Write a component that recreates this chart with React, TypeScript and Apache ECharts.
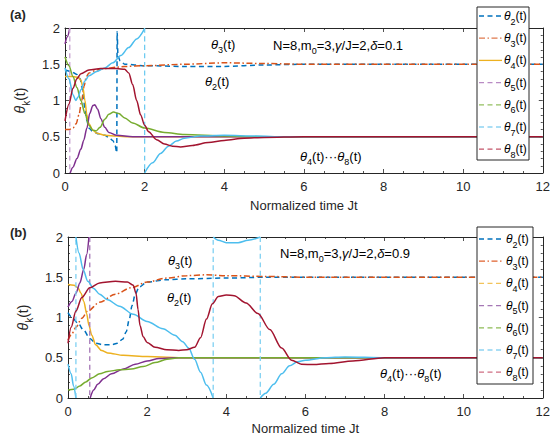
import React, { useEffect, useRef } from 'react';
import * as echarts from 'echarts';

const FONT = '"Liberation Sans", Arial, Helvetica, sans-serif';
const INK = '#262626';
const C2 = '#0072BD';
const C3 = '#D95319';
const C4 = '#EDB120';
const C5 = '#7E2F8E';
const C6 = '#77AC30';
const C7 = '#4DBEEE';
const C8 = '#A2142F';

// x-axis ticks and y-axis ticks
const xTicks = [0, 2, 4, 6, 8, 10, 12];
const yTicks = [0, 0.5, 1, 1.5, 2];
const legendIds = ['2', '3', '4', '5', '6', '7', '8'];

// ---------- panel (a): delta = 0.1 ----------
const a2 = [[0, 1.42], [0.15, 1.4], [0.3, 1.36], [0.38, 1.3], [0.44, 1.15], [0.5, 0.9], [0.55, 0.72], [0.6, 0.62], [0.7, 0.57], [0.85, 0.54], [1.0, 0.52], [1.1, 0.49], [1.2, 0.45], [1.26, 0.38], [1.3, 0.28], [1.31, 1.95], [1.33, 1.62], [1.38, 1.55], [1.5, 1.5], [2, 1.48], [3, 1.47], [4, 1.47], [5, 1.49], [6, 1.5], [12, 1.5]];
const a3 = [[0, 0.6], [0.1, 0.6], [0.2, 0.62], [0.28, 0.68], [0.35, 0.8], [0.42, 1.0], [0.48, 1.2], [0.53, 1.32], [0.6, 1.38], [0.8, 1.42], [1.0, 1.44], [1.3, 1.46], [1.5, 1.47], [2, 1.48], [3, 1.5], [4, 1.52], [5, 1.51], [6, 1.5], [12, 1.5]];
const a4 = [[0, 1.33], [0.2, 1.33], [0.33, 1.32], [0.4, 1.28], [0.45, 1.18], [0.5, 1.0], [0.55, 0.8], [0.6, 0.68], [0.7, 0.59], [0.8, 0.55], [1.0, 0.52], [1.3, 0.51], [1.6, 0.5], [12, 0.5]];
const a5Seg1 = [[0, 1.78], [0.06, 1.88], [0.12, 2.0]];
const a5Jump = [[0.12, 2], [0.12, 0]];
const a5Seg2 = [[0.13, 0], [0.2, 0.08], [0.3, 0.2], [0.4, 0.33], [0.47, 0.45], [0.55, 0.62], [0.62, 0.82], [0.7, 0.93], [0.75, 0.94], [0.82, 0.88], [0.9, 0.75], [1.0, 0.63], [1.1, 0.56], [1.3, 0.52], [1.7, 0.5], [12, 0.5]];
const a6 = [[0, 1.6], [0.1, 1.48], [0.2, 1.33], [0.3, 1.18], [0.4, 1.0], [0.5, 0.82], [0.6, 0.66], [0.7, 0.59], [0.78, 0.58], [0.88, 0.63], [1.0, 0.74], [1.1, 0.81], [1.22, 0.84], [1.35, 0.82], [1.5, 0.76], [1.7, 0.69], [2.0, 0.62], [2.5, 0.56], [3, 0.53], [4, 0.51], [5, 0.5], [12, 0.5]];
const a7Seg1 = [[0, 1.45], [0.1, 1.3], [0.2, 1.08], [0.27, 1.0], [0.33, 1.05], [0.4, 1.15], [0.5, 1.27], [0.6, 1.34], [0.8, 1.4], [1.0, 1.45], [1.2, 1.52], [1.4, 1.62], [1.6, 1.73], [1.8, 1.85], [2.0, 1.99]];
const a7Jump = [[2, 2], [2, 0]];
const a7Seg2 = [[2.0, 0], [2.2, 0.14], [2.4, 0.27], [2.6, 0.37], [2.8, 0.44], [3.0, 0.48], [3.4, 0.51], [4, 0.52], [4.8, 0.51], [5.5, 0.5], [12, 0.5]];
const a8 = [[0, 0.72], [0.1, 0.95], [0.2, 1.17], [0.3, 1.3], [0.4, 1.37], [0.6, 1.42], [0.9, 1.44], [1.3, 1.44], [1.5, 1.43], [1.6, 1.38], [1.7, 1.22], [1.8, 1.0], [1.9, 0.8], [2.0, 0.66], [2.1, 0.57], [2.3, 0.46], [2.5, 0.4], [2.7, 0.37], [2.9, 0.36], [3.2, 0.38], [3.6, 0.42], [4, 0.45], [4.5, 0.48], [5, 0.49], [6, 0.5], [12, 0.5]];

// ---------- panel (b): delta = 0.9 ----------
const b2 = [[0, 1.06], [0.1, 1.0], [0.25, 0.93], [0.4, 0.84], [0.55, 0.74], [0.7, 0.68], [0.9, 0.66], [1.1, 0.66], [1.25, 0.68], [1.38, 0.73], [1.47, 0.82], [1.55, 0.98], [1.62, 1.15], [1.7, 1.29], [1.8, 1.38], [2.0, 1.44], [2.5, 1.47], [3, 1.48], [4, 1.49], [5, 1.5], [12, 1.5]];
const b3 = [[0, 0.72], [0.1, 0.8], [0.2, 0.88], [0.35, 0.99], [0.5, 1.08], [0.8, 1.19], [1.2, 1.29], [1.6, 1.37], [2.0, 1.44], [2.5, 1.49], [3, 1.52], [3.5, 1.53], [4, 1.52], [5, 1.51], [6, 1.5], [12, 1.5]];
const b4 = [[0, 1.41], [0.15, 1.4], [0.25, 1.37], [0.33, 1.3], [0.4, 1.2], [0.47, 1.05], [0.53, 0.9], [0.6, 0.78], [0.7, 0.66], [0.85, 0.59], [1.0, 0.56], [1.4, 0.53], [2, 0.515], [3, 0.5], [12, 0.5]];
const b5Seg1 = [[0, 1.13], [0.1, 1.2], [0.2, 1.3], [0.3, 1.43], [0.4, 1.6], [0.47, 1.78], [0.53, 2.0]];
const b5Jump = [[0.55, 2], [0.55, 0]];
const b5Seg2 = [[0.56, 0], [0.65, 0.1], [0.75, 0.17], [0.9, 0.24], [1.1, 0.3], [1.4, 0.36], [1.7, 0.42], [2.0, 0.46], [2.3, 0.49], [2.7, 0.5], [12, 0.5]];
const b6 = [[0, 0.1], [0.15, 0.11], [0.3, 0.15], [0.45, 0.2], [0.6, 0.25], [0.8, 0.3], [1.0, 0.33], [1.3, 0.35], [1.6, 0.36], [1.9, 0.39], [2.2, 0.44], [2.5, 0.48], [2.8, 0.5], [12, 0.5]];
const b7Seg1 = [[0, 0.42], [0.08, 0.3], [0.14, 0.15], [0.2, 0]];
const b7Jump1 = [[0.2, 0], [0.2, 2]];
const b7Seg2 = [[0.2, 2], [0.28, 1.8], [0.38, 1.6], [0.5, 1.45], [0.65, 1.36], [0.8, 1.29], [1.0, 1.22], [1.3, 1.14], [1.65, 1.04], [2.0, 0.95], [2.4, 0.86], [2.7, 0.78], [2.9, 0.7], [3.05, 0.62], [3.2, 0.48], [3.35, 0.32], [3.5, 0.16], [3.67, 0]];
const b7Jump2 = [[3.67, 0], [3.67, 2]];
const b7Seg3 = [[3.67, 2], [3.8, 1.96], [4.0, 1.93], [4.3, 1.93], [4.55, 1.96], [4.86, 2]];
const b7Jump3 = [[4.86, 2], [4.86, 0]];
const b7Seg4 = [[4.86, 0], [5.0, 0.06], [5.2, 0.17], [5.4, 0.3], [5.6, 0.4], [5.8, 0.45], [6.0, 0.47], [6.5, 0.5], [7, 0.51], [8, 0.5], [12, 0.5]];
const b8 = [[0, 0.68], [0.08, 0.88], [0.2, 1.08], [0.35, 1.25], [0.55, 1.37], [0.8, 1.43], [1.2, 1.45], [1.5, 1.44], [1.65, 1.4], [1.72, 1.3], [1.77, 1.1], [1.82, 0.9], [1.9, 0.76], [2.0, 0.69], [2.2, 0.63], [2.5, 0.6], [2.8, 0.59], [3.0, 0.6], [3.2, 0.63], [3.35, 0.75], [3.5, 0.98], [3.65, 1.17], [3.8, 1.26], [4.0, 1.28], [4.2, 1.27], [4.5, 1.18], [4.8, 1.05], [5.1, 0.85], [5.4, 0.62], [5.65, 0.47], [5.9, 0.42], [6.2, 0.415], [6.6, 0.43], [7.2, 0.46], [8, 0.5], [12, 0.5]];

const DASH = [5, 3.5];
const DASHDOT = [6, 2.5, 1.5, 2.5];

const richBase = (size: number) => ({
  th: { fontFamily: FONT, fontSize: size, fontStyle: 'italic' as const, color: INK, lineHeight: size + 4 },
  n: { fontFamily: FONT, fontSize: size, color: INK, lineHeight: size + 4 },
  s: { fontFamily: FONT, fontSize: Math.round(size * 0.72), color: INK, verticalAlign: 'bottom' as const, lineHeight: size + 8 },
});

export default function App() {
  const ref = useRef<HTMLDivElement>(null);
  useEffect(() => {
    const chart = echarts.init(ref.current!, null, { renderer: 'svg' });

    const xAx = (gi: number, pos: 'bottom' | 'top', nameGap: number) => ({
      type: 'value', gridIndex: gi, position: pos, min: xTicks[0], max: xTicks[xTicks.length - 1], interval: xTicks[1] - xTicks[0],
      name: pos === 'bottom' ? 'Normalized time Jt' : '', nameLocation: 'middle', nameGap,
      nameTextStyle: { fontFamily: FONT, fontSize: 13, color: INK },
      axisLine: { show: true, onZero: false, lineStyle: { color: INK, width: 1 } },
      axisTick: { show: true, inside: true, length: 4, lineStyle: { color: INK, width: 0.8 } },
      minorTick: { show: true, splitNumber: 4, length: 2, lineStyle: { color: INK, width: 0.8 } },
      axisLabel: { show: pos === 'bottom', fontFamily: FONT, fontSize: 13, color: INK, margin: 7 },
      splitLine: { show: false },
    });
    const yAx = (gi: number, pos: 'left' | 'right', nameGap: number) => ({
      type: 'value', gridIndex: gi, position: pos, min: yTicks[0], max: yTicks[yTicks.length - 1], interval: yTicks[1] - yTicks[0],
      name: pos === 'left' ? '{th|θ}{s|k}{n|(t)}' : '', nameLocation: 'middle', nameGap, nameRotate: 90,
      nameTextStyle: { rich: richBase(14) },
      axisLine: { show: true, onZero: false, lineStyle: { color: INK, width: 1 } },
      axisTick: { show: true, inside: true, length: 4, lineStyle: { color: INK, width: 0.8 } },
      minorTick: { show: true, splitNumber: 5, length: 2, lineStyle: { color: INK, width: 0.8 } },
      axisLabel: { show: pos === 'left', fontFamily: FONT, fontSize: 13, color: INK, margin: 5 },
      splitLine: { show: false },
    });

    const ln = (name: string, data: number[][], color: string, gi: number, type: any = 'solid', width = 1.5) => ({
      type: 'line', name, data, xAxisIndex: gi * 2, yAxisIndex: gi * 2, symbol: 'none', showSymbol: false,
      smooth: 0.3, smoothMonotone: 'x', silent: true, clip: true,
      lineStyle: { color, width, type }, itemStyle: { color },
    });

    const legendColorsA = [C2, '#E07A4E', C4, '#B98BC4', '#94C060', '#8FD3F2', '#C45469'];
    const legendTypesA: any[] = [DASH, DASHDOT, null, DASH, DASH, DASH, DASH];
    const legendColorsB = [C2, '#E0612E', '#F2C35A', '#A577B5', '#8DBB55', '#8FD3F2', '#CF6E83'];
    const legendTypesB: any[] = [DASH, DASHDOT, DASH, DASH, DASH, DASH, DASH];

    const series: any[] = [
      ln('a2', a2, C2, 0, DASH),
      ln('a3', a3, C3, 0, DASHDOT),
      ln('a4', a4, C4, 0),
      ln('a5s1', a5Seg1, C5, 0),
      ln('a5j', a5Jump, '#C6A0D0', 0, DASH, 1.3),
      ln('a5s2', a5Seg2, C5, 0),
      ln('a6', a6, C6, 0),
      ln('a7s1', a7Seg1, C7, 0),
      ln('a7j', a7Jump, '#6ECBF1', 0, DASH, 1.3),
      ln('a7s2', a7Seg2, C7, 0),
      ln('a8', a8, C8, 0),

      ln('b2', b2, C2, 1, DASH),
      ln('b3', b3, C3, 1, DASHDOT),
      ln('b4', b4, C4, 1),
      ln('b5s1', b5Seg1, C5, 1),
      ln('b5j', b5Jump, '#A577B5', 1, DASH, 1.3),
      ln('b5s2', b5Seg2, C5, 1),
      ln('b6', b6, C6, 1),
      ln('b7s1', b7Seg1, C7, 1),
      ln('b7j1', b7Jump1, '#7FD0F2', 1, DASH, 1.3),
      ln('b7s2', b7Seg2, C7, 1),
      ln('b7j2', b7Jump2, '#7FD0F2', 1, DASH, 1.3),
      ln('b7s3', b7Seg3, C7, 1),
      ln('b7j3', b7Jump3, '#7FD0F2', 1, DASH, 1.3),
      ln('b7s4', b7Seg4, C7, 1),
      ln('b8', b8, C8, 1),
    ];

    const txt = (x: number, y: number, text: string, size = 13) => ({
      type: 'text', x, y, silent: true, z: 10,
      style: { text, rich: richBase(size), verticalAlign: 'middle', align: 'left' },
    });
    const params = (d: string) => `{n|N=8,m}{s|0}{n|=3,}{th|γ}{n|/J=2,}{th|δ}{n|=${d}}`;

    const legendBox = (x: number, y: number, w: number, h: number, y0: number, step: number, lineW: number, colors: string[], types: any[]) => {
      const els: any[] = [
        { type: 'rect', shape: { x, y, width: w, height: h }, style: { fill: '#fff', stroke: INK, lineWidth: 1 }, z: 20, silent: true },
      ];
      legendIds.forEach((id, i) => {
        const cy = y0 + i * step;
        els.push({
          type: 'line', z: 21, silent: true,
          shape: { x1: x + 2, y1: cy, x2: x + 2 + lineW, y2: cy },
          style: { stroke: colors[i], lineWidth: 1.3, lineDash: types[i] || undefined },
        });
        els.push({
          type: 'text', z: 21, silent: true, x: x + 4 + lineW, y: cy,
          style: { text: `{th|θ}{s|${id}}{n|(t)}`, rich: richBase(12), verticalAlign: 'middle', align: 'left' },
        });
      });
      return els;
    };

    const option: any = {
      animation: false,
      backgroundColor: '#fff',
      grid: [
        { left: 65, top: 28, width: 479, height: 145, show: false },
        { left: 68, top: 237, width: 476, height: 161, show: false },
      ],
      xAxis: [xAx(0, 'bottom', 26), xAx(0, 'top', 0), xAx(1, 'bottom', 24), xAx(1, 'top', 0)],
      yAxis: [yAx(0, 'left', 30), yAx(0, 'right', 0), yAx(1, 'left', 33), yAx(1, 'right', 0)],
      graphic: [
        { type: 'text', x: 10, y: 14, silent: true, style: { text: '(a)', font: `bold 13px ${FONT}`, fill: INK, verticalAlign: 'middle' } },
        { type: 'text', x: 10, y: 232, silent: true, style: { text: '(b)', font: `bold 13px ${FONT}`, fill: INK, verticalAlign: 'middle' } },
        txt(211, 44, '{th|θ}{s|3}{n|(t)}'),
        txt(205, 81, '{th|θ}{s|2}{n|(t)}'),
        txt(273, 45, params('0.1')),
        txt(300, 156, '{th|θ}{s|4}{n|(t)···}{th|θ}{s|8}{n|(t)}'),
        txt(168, 260, '{th|θ}{s|3}{n|(t)}'),
        txt(167, 297, '{th|θ}{s|2}{n|(t)}'),
        txt(280, 253, params('0.9')),
        txt(380, 373, '{th|θ}{s|4}{n|(t)···}{th|θ}{s|8}{n|(t)}'),
        ...legendBox(477, 7, 52, 153, 16, 22.2, 23, legendColorsA, legendTypesA),
        ...legendBox(477, 227, 56, 157, 239, 22.2, 25, legendColorsB, legendTypesB),
      ],
      series,
    };
    chart.setOption(option);
    return () => chart.dispose();
  }, []);
  return <div ref={ref} style={{ position: 'fixed', left: 0, top: 0, width: 553, height: 439 }} />;
}
